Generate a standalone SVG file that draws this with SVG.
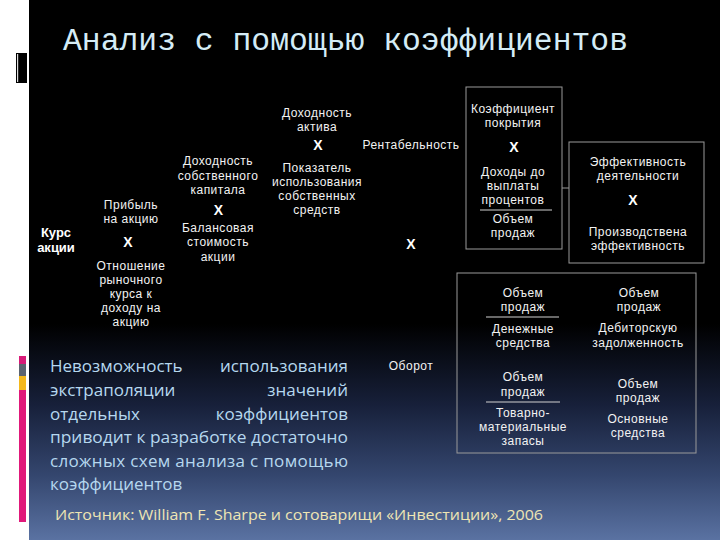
<svg xmlns="http://www.w3.org/2000/svg" width="720" height="540" viewBox="0 0 720 540">
  <defs>
    <linearGradient id="bg" x1="0" y1="0" x2="0" y2="540" gradientUnits="userSpaceOnUse">
      <stop offset="0" stop-color="#000000"/>
      <stop offset="0.6" stop-color="#000000"/>
      <stop offset="0.75" stop-color="#17203a"/>
      <stop offset="0.88" stop-color="#34466e"/>
      <stop offset="1" stop-color="#5a72a2"/>
    </linearGradient>
    <style>
      .lbl { font-family: "Liberation Sans", Arial, sans-serif; font-size: 12px; letter-spacing: 0.5px; fill: #f2f2f2; text-anchor: middle; }
      .x { font-family: "Liberation Sans", Arial, sans-serif; font-size: 14px; font-weight: bold; fill: #ffffff; text-anchor: middle; }
      .bold { font-family: "Liberation Sans", Arial, sans-serif; font-size: 13px; font-weight: bold; fill: #ffffff; text-anchor: middle; }
      .box { fill: none; stroke: #9a9a9a; stroke-width: 1; }
      .frac { stroke: #cfcfcf; stroke-width: 1.2; }
      .body { font-family: "Open Sans", "Liberation Sans", sans-serif; font-size: 17px; fill: #b6d8ef; }
    </style>
  </defs>

  <!-- slide background -->
  <rect x="0" y="0" width="720" height="540" fill="#ffffff"/>
  <rect x="29" y="0" width="691" height="540" fill="url(#bg)"/>
  <rect x="16" y="53" width="11" height="30" fill="#000000"/>
  <rect x="17" y="54" width="1.2" height="28" fill="#dddddd"/>
  <rect x="19" y="356" width="7" height="8" fill="#d81b78"/>
  <rect x="19" y="364" width="7" height="12" fill="#5c6470"/>
  <rect x="19" y="376" width="7" height="14" fill="#f4b81c"/>
  <rect x="19" y="390" width="7" height="132" fill="#e0197a"/>

  <text x="63" y="50" font-family="'Liberation Mono', monospace" font-size="31" fill="#d4ecf6" textLength="565" lengthAdjust="spacingAndGlyphs">Анализ с помощью коэффициентов</text>

  <g id="connectors">
    <line x1="562" y1="188" x2="569" y2="188" stroke="#9a9a9a" stroke-width="1"/>
  </g>

  <g id="n-kurs">
    <text class="bold" x="56" y="237">Курс</text>
    <text class="bold" x="56" y="252">акции</text>
  </g>

  <g id="n-eps">
    <text class="lbl" x="131" y="208.5">Прибыль</text>
    <text class="lbl" x="131" y="222.5">на акцию</text>
    <text class="x" x="128" y="247">X</text>
  </g>

  <g id="n-pe">
    <text class="lbl" x="131" y="270">Отношение</text>
    <text class="lbl" x="131" y="284">рыночного</text>
    <text class="lbl" x="131" y="298">курса к</text>
    <text class="lbl" x="131" y="312">доходу на</text>
    <text class="lbl" x="131" y="326">акцию</text>
  </g>

  <g id="n-roe">
    <text class="lbl" x="218" y="165">Доходность</text>
    <text class="lbl" x="218" y="180">собственного</text>
    <text class="lbl" x="218" y="194">капитала</text>
    <text class="x" x="218.5" y="215">X</text>
  </g>

  <g id="n-bv">
    <text class="lbl" x="218" y="232">Балансовая</text>
    <text class="lbl" x="218" y="246">стоимость</text>
    <text class="lbl" x="218" y="261">акции</text>
  </g>

  <g id="n-roa">
    <text class="lbl" x="317" y="116.5">Доходность</text>
    <text class="lbl" x="317" y="130.5">актива</text>
    <text class="x" x="318" y="150">X</text>
  </g>

  <g id="n-equity">
    <text class="lbl" x="317" y="172">Показатель</text>
    <text class="lbl" x="317" y="186">использования</text>
    <text class="lbl" x="317" y="200">собственных</text>
    <text class="lbl" x="317" y="214">средств</text>
  </g>

  <g id="n-rent">
    <text class="lbl" x="411" y="149">Рентабельность</text>
    <text class="x" x="411" y="249">X</text>
  </g>

  <g id="n-coverage">
    <rect class="box" x="466" y="87" width="96" height="162"/>
    <text class="lbl" x="513" y="113">Коэффициент</text>
    <text class="lbl" x="513" y="127">покрытия</text>
    <text class="x" x="514" y="152">X</text>
    <text class="lbl" x="513" y="175.5">Доходы до</text>
    <text class="lbl" x="513" y="189.5">выплаты</text>
    <text class="lbl" x="513" y="203.5">процентов</text>
    <line class="frac" x1="480" y1="210" x2="552" y2="210"/>
    <text class="lbl" x="513" y="222.5">Объем</text>
    <text class="lbl" x="513" y="237">продаж</text>
  </g>

  <g id="n-efficiency">
    <rect class="box" x="569" y="142" width="135" height="121"/>
    <text class="lbl" x="638" y="165.5">Эффективность</text>
    <text class="lbl" x="638" y="179.5">деятельности</text>
    <text class="x" x="633" y="205">X</text>
    <text class="lbl" x="638" y="236">Производствена</text>
    <text class="lbl" x="638" y="250">эффективность</text>
  </g>

  <g id="n-turnover">
    <text class="lbl" x="411" y="370">Оборот</text>
  </g>

  <g id="n-ratios">
    <rect class="box" x="457" y="273" width="239" height="180"/>
    <text class="lbl" x="523" y="297">Объем</text>
    <text class="lbl" x="523" y="311">продаж</text>
    <line class="frac" x1="486" y1="317" x2="559" y2="317"/>
    <text class="lbl" x="523" y="333">Денежные</text>
    <text class="lbl" x="523" y="347">средства</text>

    <text class="lbl" x="639" y="297">Объем</text>
    <text class="lbl" x="639" y="311">продаж</text>
    <text class="lbl" x="638" y="332">Дебиторскую</text>
    <text class="lbl" x="638" y="347">задолженность</text>

    <text class="lbl" x="523" y="381">Объем</text>
    <text class="lbl" x="523" y="396">продаж</text>
    <line class="frac" x1="486" y1="402" x2="560" y2="402"/>
    <text class="lbl" x="523" y="417">Товарно-</text>
    <text class="lbl" x="523" y="431">материальные</text>
    <text class="lbl" x="523" y="445">запасы</text>

    <text class="lbl" x="638" y="388">Объем</text>
    <text class="lbl" x="638" y="402">продаж</text>
    <text class="lbl" x="638" y="423">Основные</text>
    <text class="lbl" x="638" y="437">средства</text>
  </g>

  <g id="body-text">
    <text class="body" x="50" y="372">Невозможность</text>
    <text class="body" x="348" y="372" text-anchor="end">использования</text>
    <text class="body" x="50" y="396">экстраполяции</text>
    <text class="body" x="348" y="396" text-anchor="end">значений</text>
    <text class="body" x="50" y="419.5">отдельных</text>
    <text class="body" x="348" y="419.5" text-anchor="end">коэффициентов</text>
    <text class="body" x="50" y="443" textLength="298" lengthAdjust="spacingAndGlyphs">приводит к разработке достаточно</text>
    <text class="body" x="50" y="466.5" textLength="298" lengthAdjust="spacing">сложных схем анализа с помощью</text>
    <text class="body" x="50" y="490">коэффициентов</text>
  </g>

  <text x="55" y="520" font-family="'Open Sans', 'Liberation Sans', sans-serif" font-size="14" fill="#efe6b4" textLength="488" lengthAdjust="spacingAndGlyphs">Источник: William F. Sharpe и  сотоварищи «Инвестиции», 2006</text>
</svg>
